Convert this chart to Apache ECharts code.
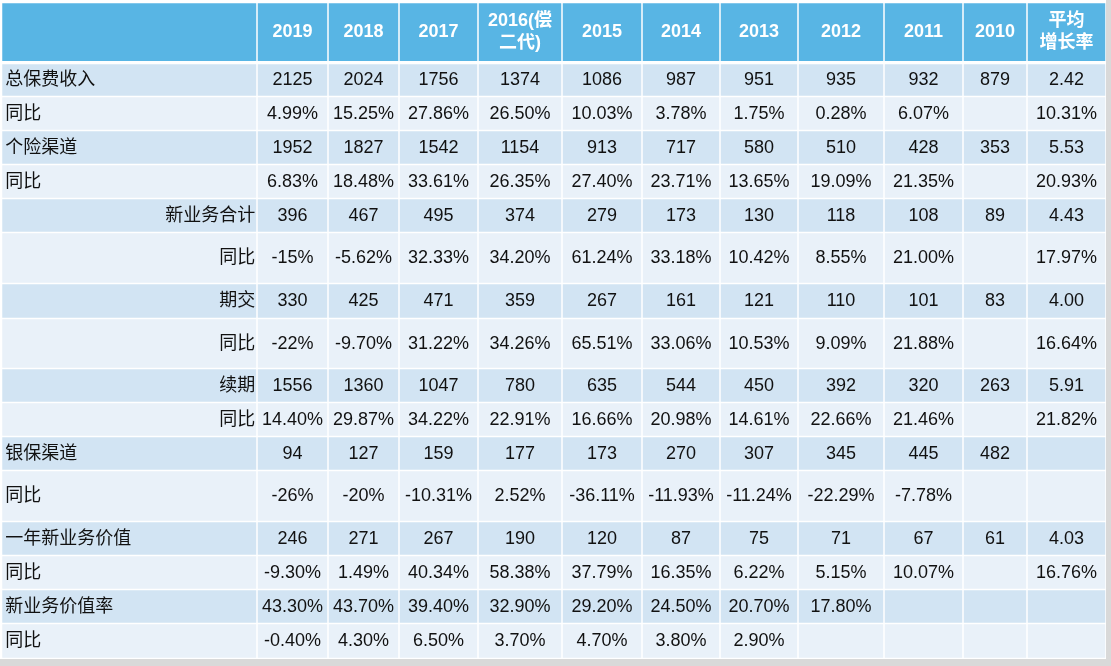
<!DOCTYPE html>
<html><head><meta charset="utf-8">
<script src="https://cdn.jsdelivr.net/npm/echarts@6.0.0/dist/echarts.min.js"></script>
<style>html,body{margin:0;padding:0;background:#d9d9d9;}#c{width:1111px;height:666px;}</style>
</head><body><div id="c"></div>
<script>
// ---- data ----
const headers = ['2019','2018','2017','2016(偿\n二代)','2015','2014','2013','2012','2011','2010','平均\n增长率'];
const rowLabels = ['总保费收入','同比','个险渠道','同比','新业务合计','同比','期交','同比','续期','同比','银保渠道','同比','一年新业务价值','同比','新业务价值率','同比'];
const subRows = [4,5,6,7,8,9]; // right-aligned labels
const totalPremium   = ['2125','2024','1756','1374','1086','987','951','935','932','879','2.42'];
const totalPremYoY   = ['4.99%','15.25%','27.86%','26.50%','10.03%','3.78%','1.75%','0.28%','6.07%','','10.31%'];
const agency         = ['1952','1827','1542','1154','913','717','580','510','428','353','5.53'];
const agencyYoY      = ['6.83%','18.48%','33.61%','26.35%','27.40%','23.71%','13.65%','19.09%','21.35%','','20.93%'];
const newBiz         = ['396','467','495','374','279','173','130','118','108','89','4.43'];
const newBizYoY      = ['-15%','-5.62%','32.33%','34.20%','61.24%','33.18%','10.42%','8.55%','21.00%','','17.97%'];
const regular        = ['330','425','471','359','267','161','121','110','101','83','4.00'];
const regularYoY     = ['-22%','-9.70%','31.22%','34.26%','65.51%','33.06%','10.53%','9.09%','21.88%','','16.64%'];
const renewal        = ['1556','1360','1047','780','635','544','450','392','320','263','5.91'];
const renewalYoY     = ['14.40%','29.87%','34.22%','22.91%','16.66%','20.98%','14.61%','22.66%','21.46%','','21.82%'];
const banca          = ['94','127','159','177','173','270','307','345','445','482',''];
const bancaYoY       = ['-26%','-20%','-10.31%','2.52%','-36.11%','-11.93%','-11.24%','-22.29%','-7.78%','',''];
const nbv            = ['246','271','267','190','120','87','75','71','67','61','4.03'];
const nbvYoY         = ['-9.30%','1.49%','40.34%','58.38%','37.79%','16.35%','6.22%','5.15%','10.07%','','16.76%'];
const nbvMargin      = ['43.30%','43.70%','39.40%','32.90%','29.20%','24.50%','20.70%','17.80%','','',''];
const nbvMarginYoY   = ['-0.40%','4.30%','6.50%','3.70%','4.70%','3.80%','2.90%','','','',''];
const rowsData = [totalPremium,totalPremYoY,agency,agencyYoY,newBiz,newBizYoY,regular,regularYoY,renewal,renewalYoY,banca,bancaYoY,nbv,nbvYoY,nbvMargin,nbvMarginYoY];

// ---- layout (grid lines in axis units) ----
const colEdges = [1.5, 257, 328, 399, 478, 562, 642, 720, 798, 884, 963, 1027, 1106];
const rowEdges = [2.5, 62.5, 96.5, 130.5, 164.5, 198.5, 232.5, 283.5, 318.5, 368.5, 402.5, 436.5, 470.5, 521.5, 555.5, 589.5, 623.5, 658.5];

// build cells
const cells = [];
cells.push({c:0, r:0, t:'', type:'head'});
headers.forEach((h,i)=>cells.push({c:i+1, r:0, t:h, type:'head'}));
rowLabels.forEach((lab,ri)=>{
  const type = ri % 2 === 0 ? 'dark' : 'light';
  cells.push({c:0, r:ri+1, t:lab, type, label:true, sub: subRows.indexOf(ri) >= 0});
  rowsData[ri].forEach((v,ci)=>cells.push({c:ci+1, r:ri+1, t:v, type}));
});

const fills = {head:'#58b5e4', dark:'#d2e4f3', light:'#e9f1f9'};
const FONT = '"Liberation Sans", Arial, "Noto Sans CJK SC", sans-serif';

const chart = echarts.init(document.getElementById('c'), null, {renderer:'canvas'});
chart.setOption({
  backgroundColor: '#d9d9d9',
  animation: false,
  graphic: [{type:'rect', shape:{x:0,y:0,width:1106,height:659}, style:{fill:'#ffffff'}, z:-10, silent:true}],
  grid: {left:0, right:0, top:0, bottom:0},
  xAxis: {type:'value', min:0, max:1111, show:false},
  yAxis: {type:'value', min:0, max:666, inverse:true, show:false},
  series: [{
    type:'custom',
    coordinateSystem:'cartesian2d',
    data: cells.map(d=>[d.c, d.r]),
    renderItem: function(params, api){
      const d = cells[params.dataIndex];
      const p0 = api.coord([colEdges[d.c], rowEdges[d.r]]);
      const p1 = api.coord([colEdges[d.c+1], rowEdges[d.r+1]]);
      const g = 0.75;
      const gTop = d.r === 1 ? 1.75 : g;
      const gBot = d.r === 0 ? 1.5 : g;
      const x0 = p0[0]+g, y0 = p0[1]+gTop, w = p1[0]-p0[0]-2*g, h = p1[1]-p0[1]-gTop-gBot;
      const children = [{type:'rect', shape:{x:x0,y:y0,width:w,height:h}, style:{fill:fills[d.type]}}];
      if (d.t) {
        let tx = x0 + w/2, align = 'center';
        if (d.label) {
          if (d.sub) { tx = x0 + w - 1; align = 'right'; }
          else { tx = x0 + 3; align = 'left'; }
        }
        const head = d.type === 'head';
        children.push({type:'text', style:{
          x: tx, y: y0 + h/2 + (head ? 0 : 0.5), text: d.t, align, verticalAlign:'middle',
          fontFamily: FONT, fontSize: 18, fontWeight: head ? 'bold' : 'normal',
          fill: head ? '#ffffff' : '#111111', lineHeight: 22
        }});
      }
      return {type:'group', children};
    }
  }]
});
</script></body></html>
